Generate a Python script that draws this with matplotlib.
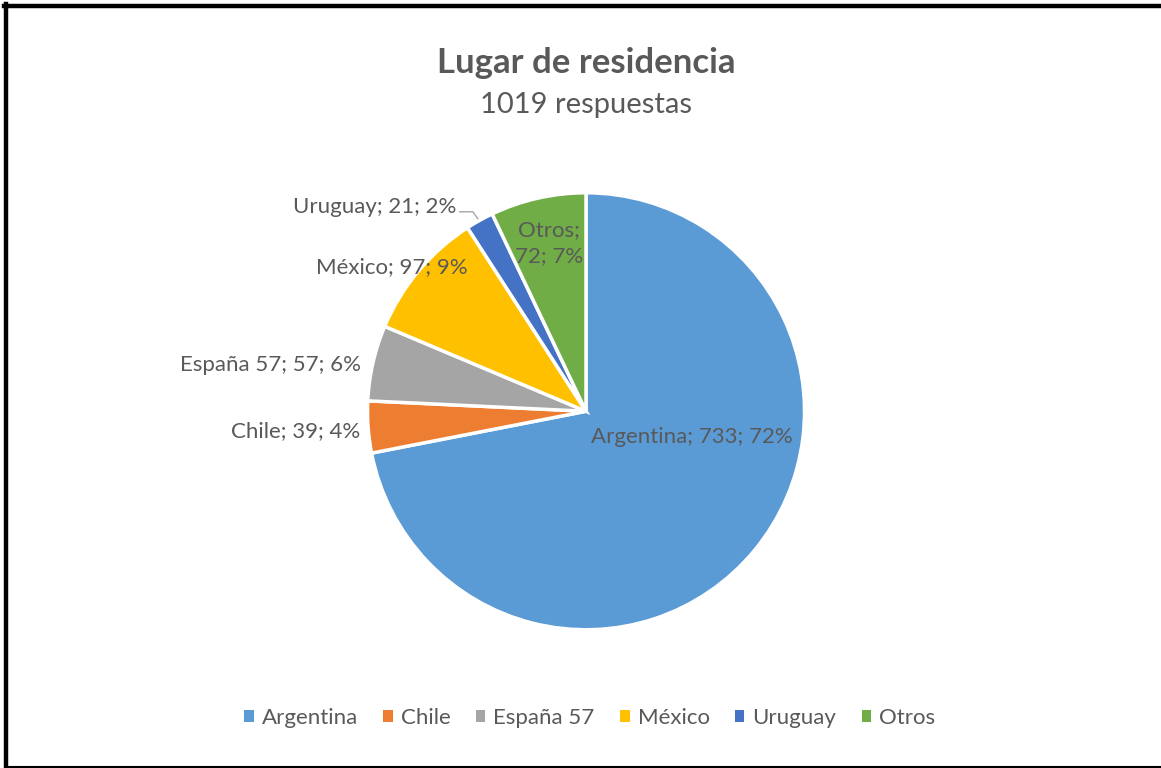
import matplotlib
matplotlib.use("Agg")
import matplotlib.pyplot as plt
from matplotlib.lines import Line2D

plt.rcParams["font.family"] = ["Lato", "DejaVu Sans"]

paises = ["Argentina", "Chile", "España 57", "México", "Uruguay", "Otros"]
respuestas = [733, 39, 57, 97, 21, 72]
porcentajes = [72, 4, 6, 9, 2, 7]   # as printed on the chart
colores = ["#5B9BD5", "#ED7D31", "#A5A5A5", "#FFC000", "#4472C4", "#70AD47"]
TXT = "#595959"

total = sum(respuestas)

fig = plt.figure(figsize=(11.61, 7.68), dpi=100)
ax = fig.add_axes([0.3165, 0.180, 0.3765, 0.5690])
wedges, _ = ax.pie(respuestas, colors=colores, startangle=90, counterclock=False,
                   radius=1, wedgeprops=dict(edgecolor="white", linewidth=2.5))
ax.set_xlim(-1, 1); ax.set_ylim(-1, 1)
ax.set_aspect("equal")
ax.axis("off")

# label placement (data coords, alignment) per slice
pos = [(0.486, -0.119, "center"), (-1.032, -0.092, "right"),
       (-1.028, 0.211, "right"), (-0.541, 0.661, "right"),
       (-0.592, 0.936, "right"), (-0.170, 0.771, "center")]
for nom, v, pct, (x, y, ha) in zip(paises, respuestas, porcentajes, pos):
    if nom == "Otros":
        s = f"{nom};\n{v}; {pct}%"
    else:
        s = f"{nom}; {v}; {pct}%"
    ax.text(x, y, s, ha=ha, va="center", fontsize=16, color=TXT,
            linespacing=1.4, clip_on=False)

# leader line for Uruguay
ax.plot([-0.578, -0.518, -0.495], [0.913, 0.913, 0.881], color="#A6A6A6",
        lw=1, clip_on=False)

fig.text(0.5047, 1 - 63 / 768, "Lugar de residencia", ha="center", va="center",
         fontsize=25, fontweight="bold", color=TXT)
fig.text(0.5047, 1 - 105 / 768, f"{total} respuestas", ha="center", va="center",
         fontsize=21, color=TXT)

leg = fig.legend(wedges, paises, loc="center", bbox_to_anchor=(0.508, 1 - 718 / 768),
                 ncol=6, frameon=False, fontsize=16, handlelength=0.42,
                 handleheight=0.42, handletextpad=0.36, columnspacing=1.15)
for t in leg.get_texts():
    t.set_color(TXT)
for h in leg.legend_handles:
    h.set_edgecolor("none")

# frame of the original screenshot
fig.add_artist(Line2D([6 / 1161, 6 / 1161], [0, 1 - 4 / 768], color="black",
                      lw=3.2, transform=fig.transFigure))
fig.add_artist(Line2D([4 / 1161, 1], [1 - 6 / 768, 1 - 6 / 768], color="black",
                      lw=3.2, transform=fig.transFigure))
fig.add_artist(Line2D([6 / 1161, 1], [1.5 / 768, 1.5 / 768], color="black",
                      lw=1.5, transform=fig.transFigure))

fig.savefig("out.png", dpi=100, facecolor="white")
